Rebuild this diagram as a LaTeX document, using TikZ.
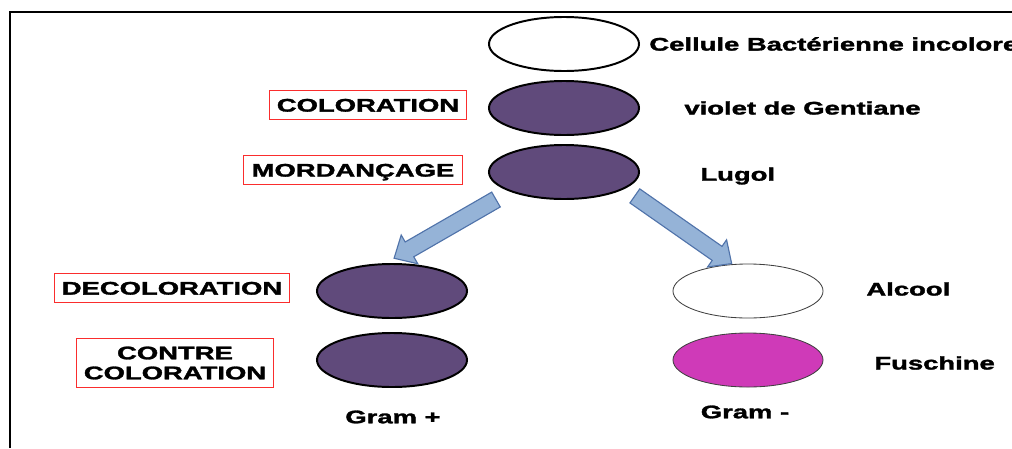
\documentclass[tikz,border=0pt]{standalone}
\usepackage{fontspec}
\setmainfont{Liberation Sans}[BoldFeatures={FakeBold=1.5}]
\usetikzlibrary{shapes.geometric,shapes.arrows,calc}
\definecolor{cellpurple}{RGB}{96,74,123}
\definecolor{cellpink}{RGB}{207,58,184}
\definecolor{arrowfill}{RGB}{149,179,215}
\definecolor{arrowline}{RGB}{80,115,170}
\definecolor{boxred}{RGB}{250,45,45}
\begin{document}
\begin{tikzpicture}[x=0.025cm, y=-0.025cm,
  cell/.style={ellipse, draw=black, line width=1.4pt, inner sep=0pt,
    minimum width=3.75cm, minimum height=1.35cm},
  cellthin/.style={cell, draw=black!75, line width=0.6pt},
  txt/.style={font=\bfseries\fontsize{13}{14.2}\selectfont, xscale=1.5,
    transform shape, inner sep=0pt},
  lbl/.style={txt, anchor=west},
  stepbox/.style={txt, draw=boxred, line width=0.7pt, inner xsep=0.13cm,
    inner ysep=5.6pt, text height=9.4pt, text depth=0pt},
  bluearrow/.style={single arrow, draw=arrowline, fill=arrowfill,
    line width=0.8pt, inner xsep=0pt, inner ysep=0.2cm,
    single arrow head extend=0.2cm, single arrow tip angle=86}
]
  \useasboundingbox (0,0) rectangle (1012,448);
  \clip (0,0) rectangle (1012,448);

  % frame
  \draw[line width=1.1pt] (10,448) -- (10,12) -- (1012,12);

  % cells, top column
  \node[cell, fill=white] (cellInit) at (564,44) {};
  \node[cell, fill=cellpurple] (cellViolet) at (564,108) {};
  \node[cell, fill=cellpurple] (cellLugol) at (564,172) {};

  % Gram + / Gram - columns
  \node[cell, fill=cellpurple] (gpDecol) at (392,291) {};
  \node[cell, fill=cellpurple] (gpContre) at (392,360) {};
  \node[cellthin, fill=white] (gnDecol) at (748,291) {};
  \node[cellthin, fill=cellpink] (gnContre) at (748,360) {};

  % reagents
  \node[lbl] (lblInit) at (649,44) {Cellule Bactérienne incolore};
  \node[lbl] (lblViolet) at (684,108) {violet de Gentiane};
  \node[lbl] (lblLugol) at (700,176) {Lugol};
  \node[lbl] (lblAlcool) at (866,289) {Alcool};
  \node[lbl] (lblFuschine) at (874,363) {Fuschine};
  \node[txt] (lblGp) at (393,417) {Gram +};
  \node[txt] (lblGn) at (745,412) {Gram -};

  % steps
  \node[stepbox] (stepColor) at (368,105) {COLORATION};
  \node[stepbox] (stepMord) at (353,170) {MORDANÇAGE};
  \node[stepbox] (stepDecol) at (172,288) {DECOLORATION};
  \node[txt, draw=boxred, line width=0.7pt, inner xsep=0.13cm, inner ysep=5.6pt,
    align=center] (stepContre) at (175,363) {CONTRE\\COLORATION};

  % block arrows
  \coordinate (tailL) at ($(cellLugol.196)+(-4,8)$);
  \coordinate (tailR) at ($(cellLugol.-16)+(7,4)$);
  \coordinate (tipL) at (398,256);
  \coordinate (tipR) at (728,261);
  \path let \p1 = ($(tipL)-(tailL)$), \n1 = {veclen(\x1,\y1)} in
    (tailL) -- (tipL) node[bluearrow, midway, sloped,
    allow upside down, minimum height=\n1] {};
  \path let \p1 = ($(tipR)-(tailR)$), \n1 = {veclen(\x1,\y1)} in
    (tailR) -- (tipR) node[bluearrow, midway, sloped,
    allow upside down, minimum height=\n1] {};
\end{tikzpicture}
\end{document}
